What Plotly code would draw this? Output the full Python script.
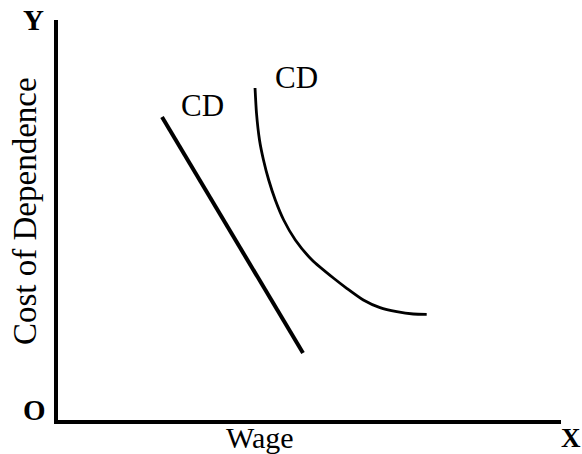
import plotly.graph_objects as go

# Data (chart units: x 0-100 = Wage, y 0-100 = Cost of Dependence)
line_x = [20.68, 48.71]
line_y = [75.75, 16.75]

curve_x = [39.17, 39.46, 40.06, 40.85, 41.89, 43.20, 44.87, 47.18, 50.50,
           54.81, 57.40, 60.70, 64.02, 67.34, 70.64, 73.30]
curve_y = [83.0, 76.75, 70.0, 65.0, 60.0, 55.0, 50.0, 45.0, 40.0,
           35.43, 32.93, 30.0, 28.08, 27.08, 26.5, 26.43]

label_text = ["CD", "CD"]
label_x = [28.73, 47.51]
label_y = [78.63, 85.75]

W, H = 582, 454
L, R, T, B = 58, 21, 20, 34
PW, PH = W - L - R, H - T - B

def px(x):
    return (x - L) / PW

def py(y):
    return (H - B - y) / PH

FONT = "Liberation Serif"

fig = go.Figure()
fig.add_trace(go.Scatter(x=line_x, y=line_y, mode="lines",
                         line=dict(color="black", width=4), showlegend=False,
                         hoverinfo="skip"))
fig.add_trace(go.Scatter(x=curve_x, y=curve_y, mode="lines",
                         line=dict(color="black", width=2.8, shape="spline", smoothing=0.6),
                         showlegend=False, hoverinfo="skip"))

def ann(x, y, text, size, xref="paper", yref="paper", angle=0):
    fig.add_annotation(x=x, y=y, xref=xref, yref=yref, text=text, showarrow=False,
                       xanchor="center", yanchor="middle", textangle=angle, borderpad=0,
                       font=dict(family=FONT, size=size, color="black"))

for t, x, y in zip(label_text, label_x, label_y):
    ann(x, y, t, 31, xref="x", yref="y")

ann(px(33.5), py(20.5), "<b>Y</b>", 29)
ann(px(34.5), py(409.5), "<b>O</b>", 29)
ann(px(571), py(438.5), "<b>X</b>", 27)
ann(px(260), py(437.5), "Wage", 30)
ann(px(25), py(211), "Cost of Dependence", 33, angle=-90)

fig.update_layout(
    width=W, height=H,
    margin=dict(l=L, r=R, t=T, b=B, pad=0),
    paper_bgcolor="white", plot_bgcolor="white",
    hovermode=False,
    xaxis=dict(range=[0, 100], showgrid=False, zeroline=False, showticklabels=False,
               ticks="", showline=True, linecolor="black", linewidth=3.5, fixedrange=True),
    yaxis=dict(range=[0, 100], showgrid=False, zeroline=False, showticklabels=False,
               ticks="", showline=True, linecolor="black", linewidth=3.5, fixedrange=True),
)

fig.write_html(
    "out.html",
    config={"displayModeBar": False},
    post_script="document.body.style.margin='0px';document.body.style.overflow='hidden';",
)
